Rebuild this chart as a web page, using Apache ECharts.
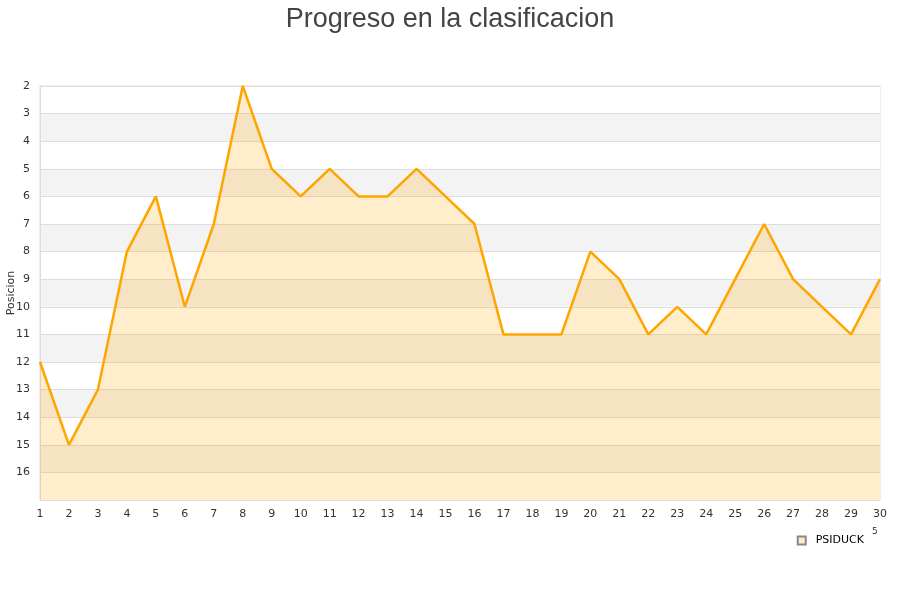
<!DOCTYPE html>
<html>
<head>
<meta charset="utf-8">
<script src="https://cdn.jsdelivr.net/npm/echarts@6/dist/echarts.min.js"></script>
<style>
  html, body { margin: 0; padding: 0; background: #fff; }
  #chart { width: 900px; height: 600px; }
</style>
</head>
<body>
<div id="chart"></div>
<script>
    // jornadas y posicion
    var jornadas = ['1', '2', '3', '4', '5', '6', '7', '8', '9', '10', '11', '12', '13', '14', '15',
        '16', '17', '18', '19', '20', '21', '22', '23', '24', '25', '26', '27', '28', '29', '30']
    var posiciones = [12, 15, 13, 8, 6, 10, 7, 2, 5, 6, 5, 6, 6, 5, 6, 7, 11, 11, 11, 8, 9, 11, 10, 11, 9, 7, 9, 10, 11, 9]
    var equipo = 'PSIDUCK'

    var chart = echarts.init(document.getElementById('chart'))
    chart.setOption({
        animation: false,
        title: {
            text: 'Progreso en la clasificacion',
            left: 'center',
            top: 1,
            textStyle: { fontFamily: 'Liberation Sans', fontSize: 27, fontWeight: 'normal', color: '#444' }
        },
        legend: {
            data: [equipo],
            right: 31,
            top: 530,
            itemWidth: 8,
            itemHeight: 8,
            icon: 'rect',
            textStyle: { fontFamily: 'DejaVu Sans', fontSize: 11, color: '#000', padding: [0, 0, 0, 5] }
        },
        grid: {
            left: 40, right: 20, top: 86, bottom: 100,
            outerBoundsMode: 'none', containLabel: false,
            show: true, borderColor: '#ddd', borderWidth: 1
        },
        xAxis: {
            type: 'category',
            data: jornadas,
            boundaryGap: false,
            axisLine: { lineStyle: { color: '#ddd' } },
            axisTick: { show: false },
            axisLabel: { color: '#333', fontFamily: 'DejaVu Sans', fontSize: 11, margin: 9 },
            splitLine: { show: false }
        },
        yAxis: {
            type: 'value',
            inverse: true,
            min: 2,
            max: 17,
            interval: 1,
            name: 'Posicion',
            nameLocation: 'middle',
            nameGap: 23,
            nameMoveOverlap: false,
            nameTextStyle: { color: '#333', fontFamily: 'DejaVu Sans', fontSize: 11 },
            axisLine: { show: true, lineStyle: { color: '#ddd' } },
            axisTick: { show: false },
            axisLabel: {
                color: '#333', fontFamily: 'DejaVu Sans', fontSize: 11, margin: 10,
                formatter: function (v) { return v === 17 ? '' : v }
            },
            splitLine: { show: true, lineStyle: { color: '#ddd' } },
            splitArea: { show: true, areaStyle: { color: ['#ffffff', '#f3f3f3'] } }
        },
        series: [{
            name: equipo,
            type: 'line',
            data: posiciones,
            symbol: 'none',
            lineStyle: { color: '#ffa500', width: 2.5 },
            itemStyle: { color: '#ffebc6', borderColor: '#888', borderWidth: 1 },
            areaStyle: { color: 'rgba(255,165,0,0.2)', opacity: 1, origin: 'end' }
        }],
        graphic: [{
            type: 'text',
            left: 872,
            top: 527,
            style: { text: '5', fill: '#333', fontSize: 9, fontFamily: 'DejaVu Sans' }
        }]
    })
</script>
</body>
</html>
